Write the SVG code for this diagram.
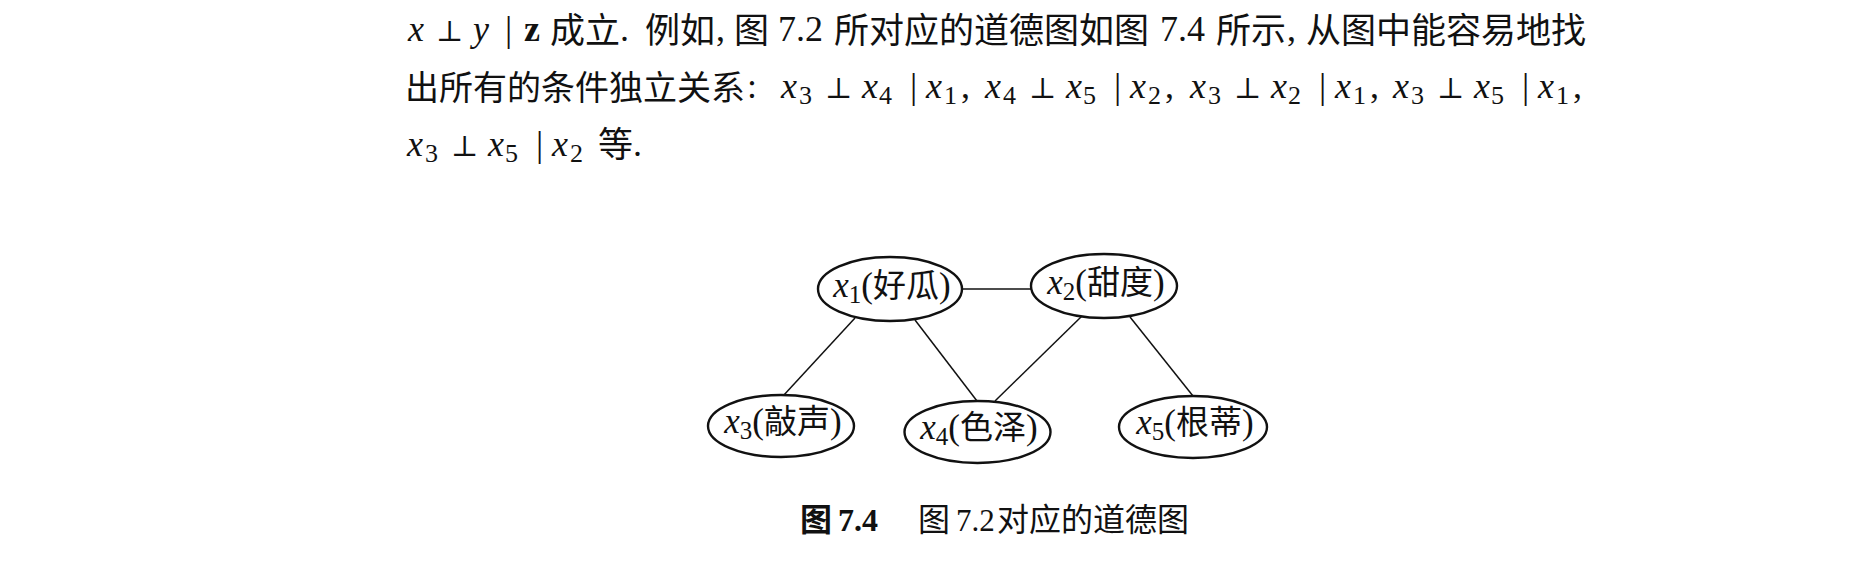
<svg xmlns="http://www.w3.org/2000/svg" width="1849" height="583" viewBox="0 0 1849 583">
<style>
.t{font-family:"Liberation Serif",serif;font-size:36px;fill:#111}
.i{font-style:italic}
.b{font-weight:bold}
.c{font-family:"Noto Sans CJK SC",sans-serif;font-size:35px}
.c2{font-family:"Noto Sans CJK SC",sans-serif;font-size:34px}
.sb{font-size:26px}
.p{font-family:"DejaVu Serif",serif;font-size:29px}
.lbl{font-family:"Liberation Serif",serif;font-size:35px;fill:#111;text-anchor:middle}
.lc{font-family:"Noto Sans CJK SC",sans-serif;font-size:33px}
.ls{font-size:25px}
.node ellipse{fill:#fff;stroke:#111;stroke-width:2.4}
#edges line{stroke:#111;stroke-width:1.5}
.cap{font-family:"Liberation Serif",serif;font-size:32px;fill:#111}
.cc{font-family:"Noto Sans CJK SC",sans-serif;font-size:32px}
</style>
<rect width="1849" height="583" fill="#fff"/>
<g id="paragraph">
<text class="t" y="41"><tspan x="408" class="i">x</tspan><tspan x="436" class="p">⊥</tspan><tspan x="473" class="i">y</tspan><tspan x="505">|</tspan><tspan x="524" class="b">z</tspan><tspan x="550" y="43" class="c">成立</tspan><tspan x="620" y="41">.</tspan><tspan x="645" y="43" class="c">例如</tspan><tspan x="716" y="41">,</tspan><tspan x="734" y="43" class="c">图</tspan><tspan x="778" y="41">7.2</tspan><tspan x="834" y="43" class="c">所对应的道德图如图</tspan><tspan x="1160" y="41">7.4</tspan><tspan x="1216" y="43" class="c">所示</tspan><tspan x="1287" y="41">,</tspan><tspan x="1306" y="43" class="c">从图中能容易地找</tspan></text>
<text class="t" y="98"><tspan x="405" y="100" class="c2">出所有的条件独立关系</tspan><tspan x="747" y="98">:</tspan><tspan x="781" class="i">x</tspan><tspan x="799" dy="6" class="sb">3</tspan><tspan x="825" dy="-6" class="p">⊥</tspan><tspan x="862" class="i">x</tspan><tspan x="879" dy="6" class="sb">4</tspan><tspan x="910" dy="-6">|</tspan><tspan x="926" class="i">x</tspan><tspan x="944" dy="6" class="sb">1</tspan><tspan x="961" dy="-6">,</tspan><tspan x="985" class="i">x</tspan><tspan x="1003" dy="6" class="sb">4</tspan><tspan x="1029" dy="-6" class="p">⊥</tspan><tspan x="1066" class="i">x</tspan><tspan x="1083" dy="6" class="sb">5</tspan><tspan x="1114" dy="-6">|</tspan><tspan x="1130" class="i">x</tspan><tspan x="1148" dy="6" class="sb">2</tspan><tspan x="1165" dy="-6">,</tspan><tspan x="1190" class="i">x</tspan><tspan x="1208" dy="6" class="sb">3</tspan><tspan x="1234" dy="-6" class="p">⊥</tspan><tspan x="1271" class="i">x</tspan><tspan x="1288" dy="6" class="sb">2</tspan><tspan x="1319" dy="-6">|</tspan><tspan x="1335" class="i">x</tspan><tspan x="1353" dy="6" class="sb">1</tspan><tspan x="1370" dy="-6">,</tspan><tspan x="1393" class="i">x</tspan><tspan x="1411" dy="6" class="sb">3</tspan><tspan x="1437" dy="-6" class="p">⊥</tspan><tspan x="1474" class="i">x</tspan><tspan x="1491" dy="6" class="sb">5</tspan><tspan x="1522" dy="-6">|</tspan><tspan x="1538" class="i">x</tspan><tspan x="1556" dy="6" class="sb">1</tspan><tspan x="1573" dy="-6">,</tspan></text>
<text class="t" y="156"><tspan x="407" class="i">x</tspan><tspan x="425" dy="6" class="sb">3</tspan><tspan x="451" dy="-6" class="p">⊥</tspan><tspan x="488" class="i">x</tspan><tspan x="505" dy="6" class="sb">5</tspan><tspan x="536" dy="-6">|</tspan><tspan x="552" class="i">x</tspan><tspan x="570" dy="6" class="sb">2</tspan><tspan x="598" y="157" class="c">等</tspan><tspan x="633" y="156">.</tspan></text>
</g>
<g id="edges">
<line x1="962" y1="289" x2="1031" y2="289"/>
<line x1="855" y1="318" x2="783" y2="396"/>
<line x1="915" y1="320" x2="977" y2="401"/>
<line x1="1082" y1="316" x2="995" y2="401"/>
<line x1="1130" y1="317" x2="1193" y2="396"/>
</g>
<g id="x1" class="node"><ellipse cx="890" cy="289" rx="72" ry="32"/><text class="lbl" x="892" y="297"><tspan class="i">x</tspan><tspan class="ls" dy="6">1</tspan><tspan dy="-6">(</tspan><tspan class="lc">好瓜</tspan>)</text></g>
<g id="x2" class="node"><ellipse cx="1104" cy="286" rx="73" ry="32"/><text class="lbl" x="1106" y="294"><tspan class="i">x</tspan><tspan class="ls" dy="6">2</tspan><tspan dy="-6">(</tspan><tspan class="lc">甜度</tspan>)</text></g>
<g id="x3" class="node"><ellipse cx="781" cy="426" rx="73" ry="31"/><text class="lbl" x="783" y="433"><tspan class="i">x</tspan><tspan class="ls" dy="6">3</tspan><tspan dy="-6">(</tspan><tspan class="lc">敲声</tspan>)</text></g>
<g id="x4" class="node"><ellipse cx="977.5" cy="432" rx="73" ry="31"/><text class="lbl" x="979" y="439"><tspan class="i">x</tspan><tspan class="ls" dy="6">4</tspan><tspan dy="-6">(</tspan><tspan class="lc">色泽</tspan>)</text></g>
<g id="x5" class="node"><ellipse cx="1193" cy="427" rx="74" ry="31"/><text class="lbl" x="1195" y="434"><tspan class="i">x</tspan><tspan class="ls" dy="6">5</tspan><tspan dy="-6">(</tspan><tspan class="lc">根蒂</tspan>)</text></g>
<g id="caption">
<text class="cap" y="531"><tspan x="800" class="cc b">图</tspan><tspan x="838" class="b">7.4</tspan><tspan x="918" class="cc">图</tspan><tspan x="956" font-size="31">7.2</tspan><tspan x="997" class="cc">对应的道德图</tspan></text>
</g>
</svg>
